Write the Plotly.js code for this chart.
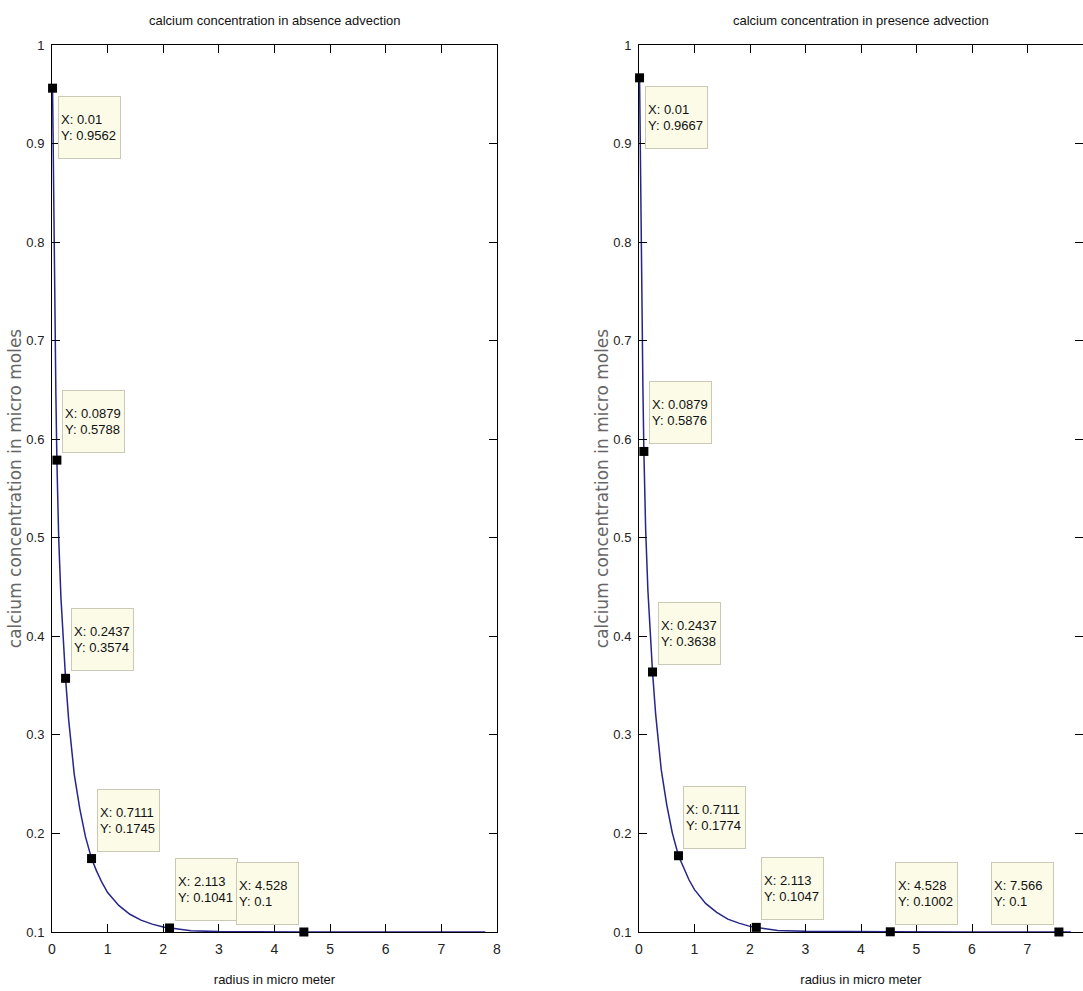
<!DOCTYPE html>
<html>
<head>
<meta charset="utf-8">
<script src="https://cdn.plot.ly/plotly-3.0.1.min.js"></script>
<style>html,body{margin:0;padding:0;background:#fff;overflow:hidden;}</style>
</head>
<body>
<div id="chart" style="width:1083px;height:991px;"></div>
<script>
// ---- Data ----
// Left panel: calcium concentration in absence advection
const radiusAbs = [0.01, 0.03, 0.05, 0.07, 0.0879, 0.12, 0.16, 0.2, 0.2437, 0.3, 0.35, 0.4, 0.5, 0.6, 0.7111,
                   0.8, 0.9, 1.0, 1.2, 1.4, 1.6, 1.8, 2.0, 2.113, 2.3, 2.5, 3.0, 3.5, 4.528, 6.0, 7.79];
const concAbs   = [0.9562, 0.835, 0.735, 0.645, 0.5788, 0.50, 0.44, 0.395, 0.3574, 0.315, 0.285, 0.26, 0.225, 0.197, 0.1745,
                   0.162, 0.150, 0.140, 0.127, 0.118, 0.112, 0.108, 0.105, 0.1041, 0.1025, 0.1012, 0.1004, 0.1001, 0.1, 0.1, 0.1];
// Data tips shown on the left panel
const tipAbsX = [0.01, 0.0879, 0.2437, 0.7111, 2.113, 4.528];
const tipAbsY = [0.9562, 0.5788, 0.3574, 0.1745, 0.1041, 0.1];

// Right panel: calcium concentration in presence advection
const radiusPres = [0.01, 0.03, 0.05, 0.07, 0.0879, 0.12, 0.16, 0.2, 0.2437, 0.3, 0.35, 0.4, 0.5, 0.6, 0.7111,
                    0.8, 0.9, 1.0, 1.2, 1.4, 1.6, 1.8, 2.0, 2.113, 2.3, 2.5, 3.0, 3.5, 4.528, 6.0, 7.566, 7.78];
const concPres   = [0.9667, 0.845, 0.745, 0.654, 0.5876, 0.508, 0.447, 0.402, 0.3638, 0.321, 0.291, 0.265, 0.229, 0.2006, 0.1774,
                    0.165, 0.153, 0.143, 0.129, 0.120, 0.113, 0.109, 0.1057, 0.1047, 0.1029, 0.1016, 0.1007, 0.1004, 0.1002, 0.1001, 0.1, 0.1];
// Data tips shown on the right panel
const tipPresX = [0.01, 0.0879, 0.2437, 0.7111, 2.113, 4.528, 7.566];
const tipPresY = [0.9667, 0.5876, 0.3638, 0.1774, 0.1047, 0.1002, 0.1];

// Titles and labels
const titleAbs  = 'calcium concentration in absence advection';
const titlePres = 'calcium concentration in presence advection';
const xLabel = 'radius in micro meter';
const yLabel = 'calcium concentration in micro moles';

// ---- Styling ----
const SANS = '"Liberation Sans", Arial, sans-serif';
const WIDE = '"DejaVu Sans", Verdana, sans-serif';
const LINE_COLOR = '#25258a';
// box placement for each tip: 'br' below-right, 'tr' above-right, 'tl' above-left
const placeAbs  = ['br', 'tr', 'tr', 'tr', 'tr', 'tl'];
const placePres = ['br', 'tr', 'tr', 'tr', 'tr', 'tr', 'tl'];

function tip(x, y, place, xref, yref) {
  const right = place[1] === 'r';
  const top = place[0] === 't';
  return {
    x: x, y: y, xref: xref, yref: yref,
    text: 'X: ' + String(x) + '<br>Y: ' + String(y),
    showarrow: false,
    xanchor: right ? 'left' : 'right',
    yanchor: top ? 'bottom' : 'top',
    xshift: right ? 5 : -5,
    yshift: top ? 7 : -8,
    align: 'left', valign: 'middle',
    width: 57, height: 57,
    bgcolor: '#FBFBE8', bordercolor: '#C9C9B6', borderwidth: 1, borderpad: 2,
    font: {family: SANS, size: 13, color: '#111'}
  };
}

const traces = [
  {x: radiusAbs, y: concAbs, xaxis: 'x', yaxis: 'y', mode: 'lines',
   line: {color: LINE_COLOR, width: 1.5}, hoverinfo: 'skip'},
  {x: tipAbsX, y: tipAbsY, xaxis: 'x', yaxis: 'y', mode: 'markers', cliponaxis: false,
   marker: {symbol: 'square', size: 9, color: '#000'}, hoverinfo: 'skip'},
  {x: radiusPres, y: concPres, xaxis: 'x2', yaxis: 'y2', mode: 'lines',
   line: {color: LINE_COLOR, width: 1.5}, hoverinfo: 'skip'},
  {x: tipPresX, y: tipPresY, xaxis: 'x2', yaxis: 'y2', mode: 'markers', cliponaxis: false,
   marker: {symbol: 'square', size: 9, color: '#000'}, hoverinfo: 'skip'}
];

function xAxis(domain) {
  return {
    domain: domain, range: [0, 8], dtick: 1, tick0: 0,
    ticks: 'inside', ticklen: 8, tickwidth: 1, tickcolor: '#000',
    showline: true, linecolor: '#000', linewidth: 1, mirror: 'ticks',
    showgrid: false, zeroline: false, ticklabelstandoff: 4,
    tickfont: {family: SANS, size: 14, color: '#222'},
    title: {text: xLabel, font: {family: SANS, size: 13, color: '#111'}, standoff: 19}
  };
}
function yAxis(anchor) {
  return {
    anchor: anchor, range: [0.1, 1], dtick: 0.1, tick0: 0.1,
    ticks: 'inside', ticklen: 8, tickwidth: 1, tickcolor: '#000',
    showline: true, linecolor: '#000', linewidth: 1, mirror: 'ticks',
    showgrid: false, zeroline: false, ticklabelstandoff: 4,
    tickfont: {family: SANS, size: 13, color: '#222'},
    title: {text: yLabel, font: {family: WIDE, size: 17, color: '#666'}, standoff: 0}
  };
}

const annotations = [];
tipAbsX.forEach((x, i) => annotations.push(tip(x, tipAbsY[i], placeAbs[i], 'x', 'y')));
tipPresX.forEach((x, i) => annotations.push(tip(x, tipPresY[i], placePres[i], 'x2', 'y2')));
annotations.push({text: titleAbs, xref: 'x domain', yref: 'paper', x: 0.5, y: 1, yanchor: 'bottom', yshift: 15,
  showarrow: false, font: {family: SANS, size: 13, color: '#111'}});
annotations.push({text: titlePres, xref: 'x2 domain', yref: 'paper', x: 0.5, y: 1, yanchor: 'bottom', yshift: 15,
  showarrow: false, font: {family: SANS, size: 13, color: '#111'}});

const layout = {
  width: 1083, height: 991,
  margin: {l: 52, r: 0, t: 45, b: 59},
  paper_bgcolor: '#fff', plot_bgcolor: '#fff',
  showlegend: false,
  xaxis: xAxis([0, 445 / 1031]),
  yaxis: yAxis('x'),
  xaxis2: xAxis([587 / 1031, 1]),
  yaxis2: yAxis('x2'),
  annotations: annotations
};
layout.xaxis.anchor = 'y';
layout.xaxis2.anchor = 'y2';

Plotly.newPlot('chart', traces, layout, {displayModeBar: false, staticPlot: true});
</script>
</body>
</html>
